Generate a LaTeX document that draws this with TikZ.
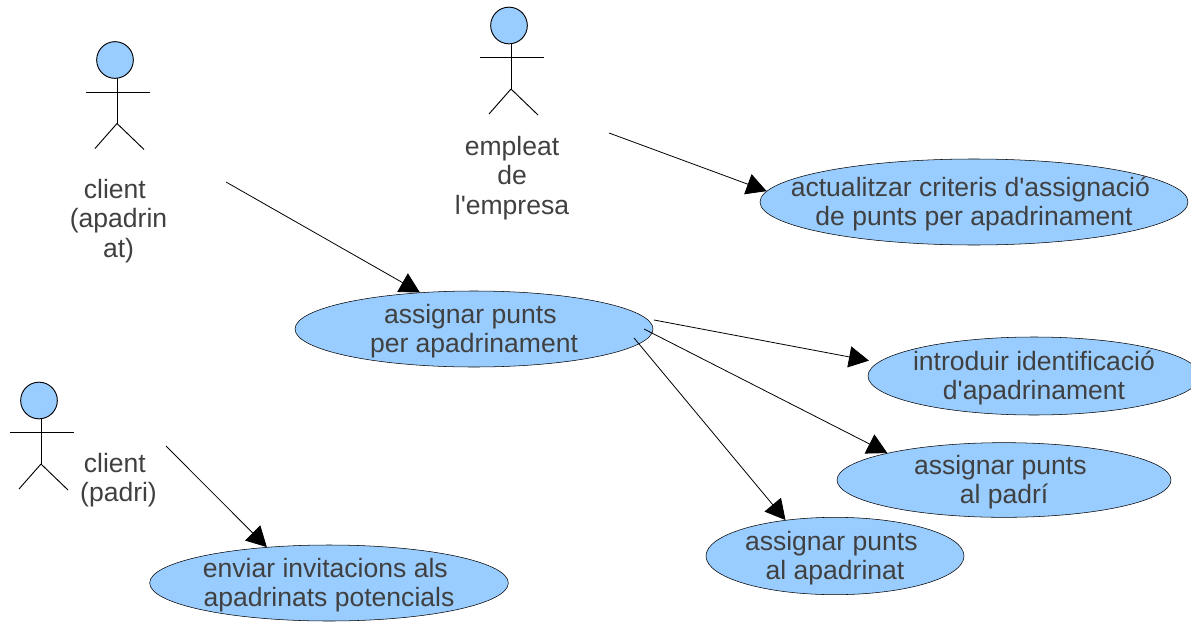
\documentclass[tikz,border=0pt]{standalone}
\usepackage{fontspec}
\newfontfamily\labelfamily{Liberation Sans}
\usetikzlibrary{calc,shapes.geometric,arrows.meta}
\definecolor{usecase}{HTML}{99CCFF}
\definecolor{labeltext}{HTML}{404040}
\tikzset{
	usecase/.style={draw=black, fill=usecase, ellipse, text=labeltext, align=center, inner xsep=-40pt, inner ysep=-8pt, font=\labelfamily\fontsize{19.9}{22.2}\selectfont},
	actorname/.style={text=labeltext, align=center, inner sep=0pt, font=\labelfamily\fontsize{19.9}{22.2}\selectfont},
	link/.style={draw=black, line width=.6pt, -{Triangle[length=15pt,width=16pt]}},
	stick/.style={draw=black, line width=.7pt}
}
\newcommand{\trailsp}{\hspace*{5.5pt}}
\newcommand{\casetop}{\rule{0pt}{17.5pt}}
% one stick figure, x and y of the head centre, then its name
\newcommand{\actorfig}[3]{
	\coordinate (#3) at (#1,#2);
	\draw [stick] ($(#3)+(2,18)$) -- ($(#3)+(2,63.5)$) coordinate (#3hip);
	\draw [stick] ($(#3)+(-29,32)$) -- ($(#3)+(35,32)$);
	\draw [stick] (#3hip) -- ($(#3)+(-20,88.5)$);
	\draw [stick] (#3hip) -- ($(#3)+(29,89.5)$);
	\node [circle, draw=black, line width=.7pt, fill=usecase, minimum size=27.5pt, inner sep=0pt] at (#3) {};
}
\begin{document}
\begin{tikzpicture}[x=.75pt,y=-.75pt]
	\useasboundingbox (0,0) rectangle (1191,621);
	\actorfig{115}{60}{apadrinatfig}
	\actorfig{509}{25.5}{empleatfig}
	\actorfig{39}{400.5}{padrifig}
	\node [actorname] (apadrinat) at (118.5,221) {client\trailsp\\(apadrin\\at)};
	\node [actorname] (empleat) at (512,178) {empleat\\de\\l'empresa};
	\node [actorname] (padri) at (118.5,480) {client\trailsp\\(padri)};
	\node [usecase, minimum width=321pt, minimum height=64.5pt] (actualitzar) at (974,202) {\casetop actualitzar criteris d'assignació\trailsp\\de punts per apadrinament};
	\node [usecase, minimum width=268.5pt, minimum height=57pt] (assignar) at (474,329) {\casetop assignar punts\trailsp\\per apadrinament};
	\node [usecase, minimum width=249pt, minimum height=58.5pt] (introduir) at (1034,376) {\casetop introduir identificació\\d'apadrinament};
	\node [usecase, minimum width=250.5pt, minimum height=56pt] (alpadri) at (1004,480) {\casetop assignar punts\trailsp\\al padrí};
	\node [usecase, minimum width=193.5pt, minimum height=58pt] (alapadrinat) at (835,556) {\casetop assignar punts\trailsp\\al apadrinat};
	\node [usecase, minimum width=269pt, minimum height=57pt] (enviar) at (329,583) {\casetop enviar invitacions als\trailsp\\apadrinats potencials};
	\coordinate (fromempleat) at (609,133);
	\coordinate (fromapadrinat) at (226,182);
	\coordinate (frompadri) at (166,446);
	\coordinate (fromassignarone) at (654,320);
	\coordinate (fromassignartwo) at (644,329);
	\coordinate (fromassignarthree) at (634,338);
	\draw [link] (fromempleat) -- (actualitzar.177);
	\draw [link] (fromapadrinat) -- (assignar.146);
	\draw [link] (frompadri) -- (enviar.150);
	\draw [link, shorten >=7pt] (fromassignarone) -- (introduir.175.3);
	\draw [link] (fromassignartwo) -- (alpadri.167);
	\draw [link] (fromassignarthree) -- (alapadrinat.144.5);
\end{tikzpicture}
\end{document}
